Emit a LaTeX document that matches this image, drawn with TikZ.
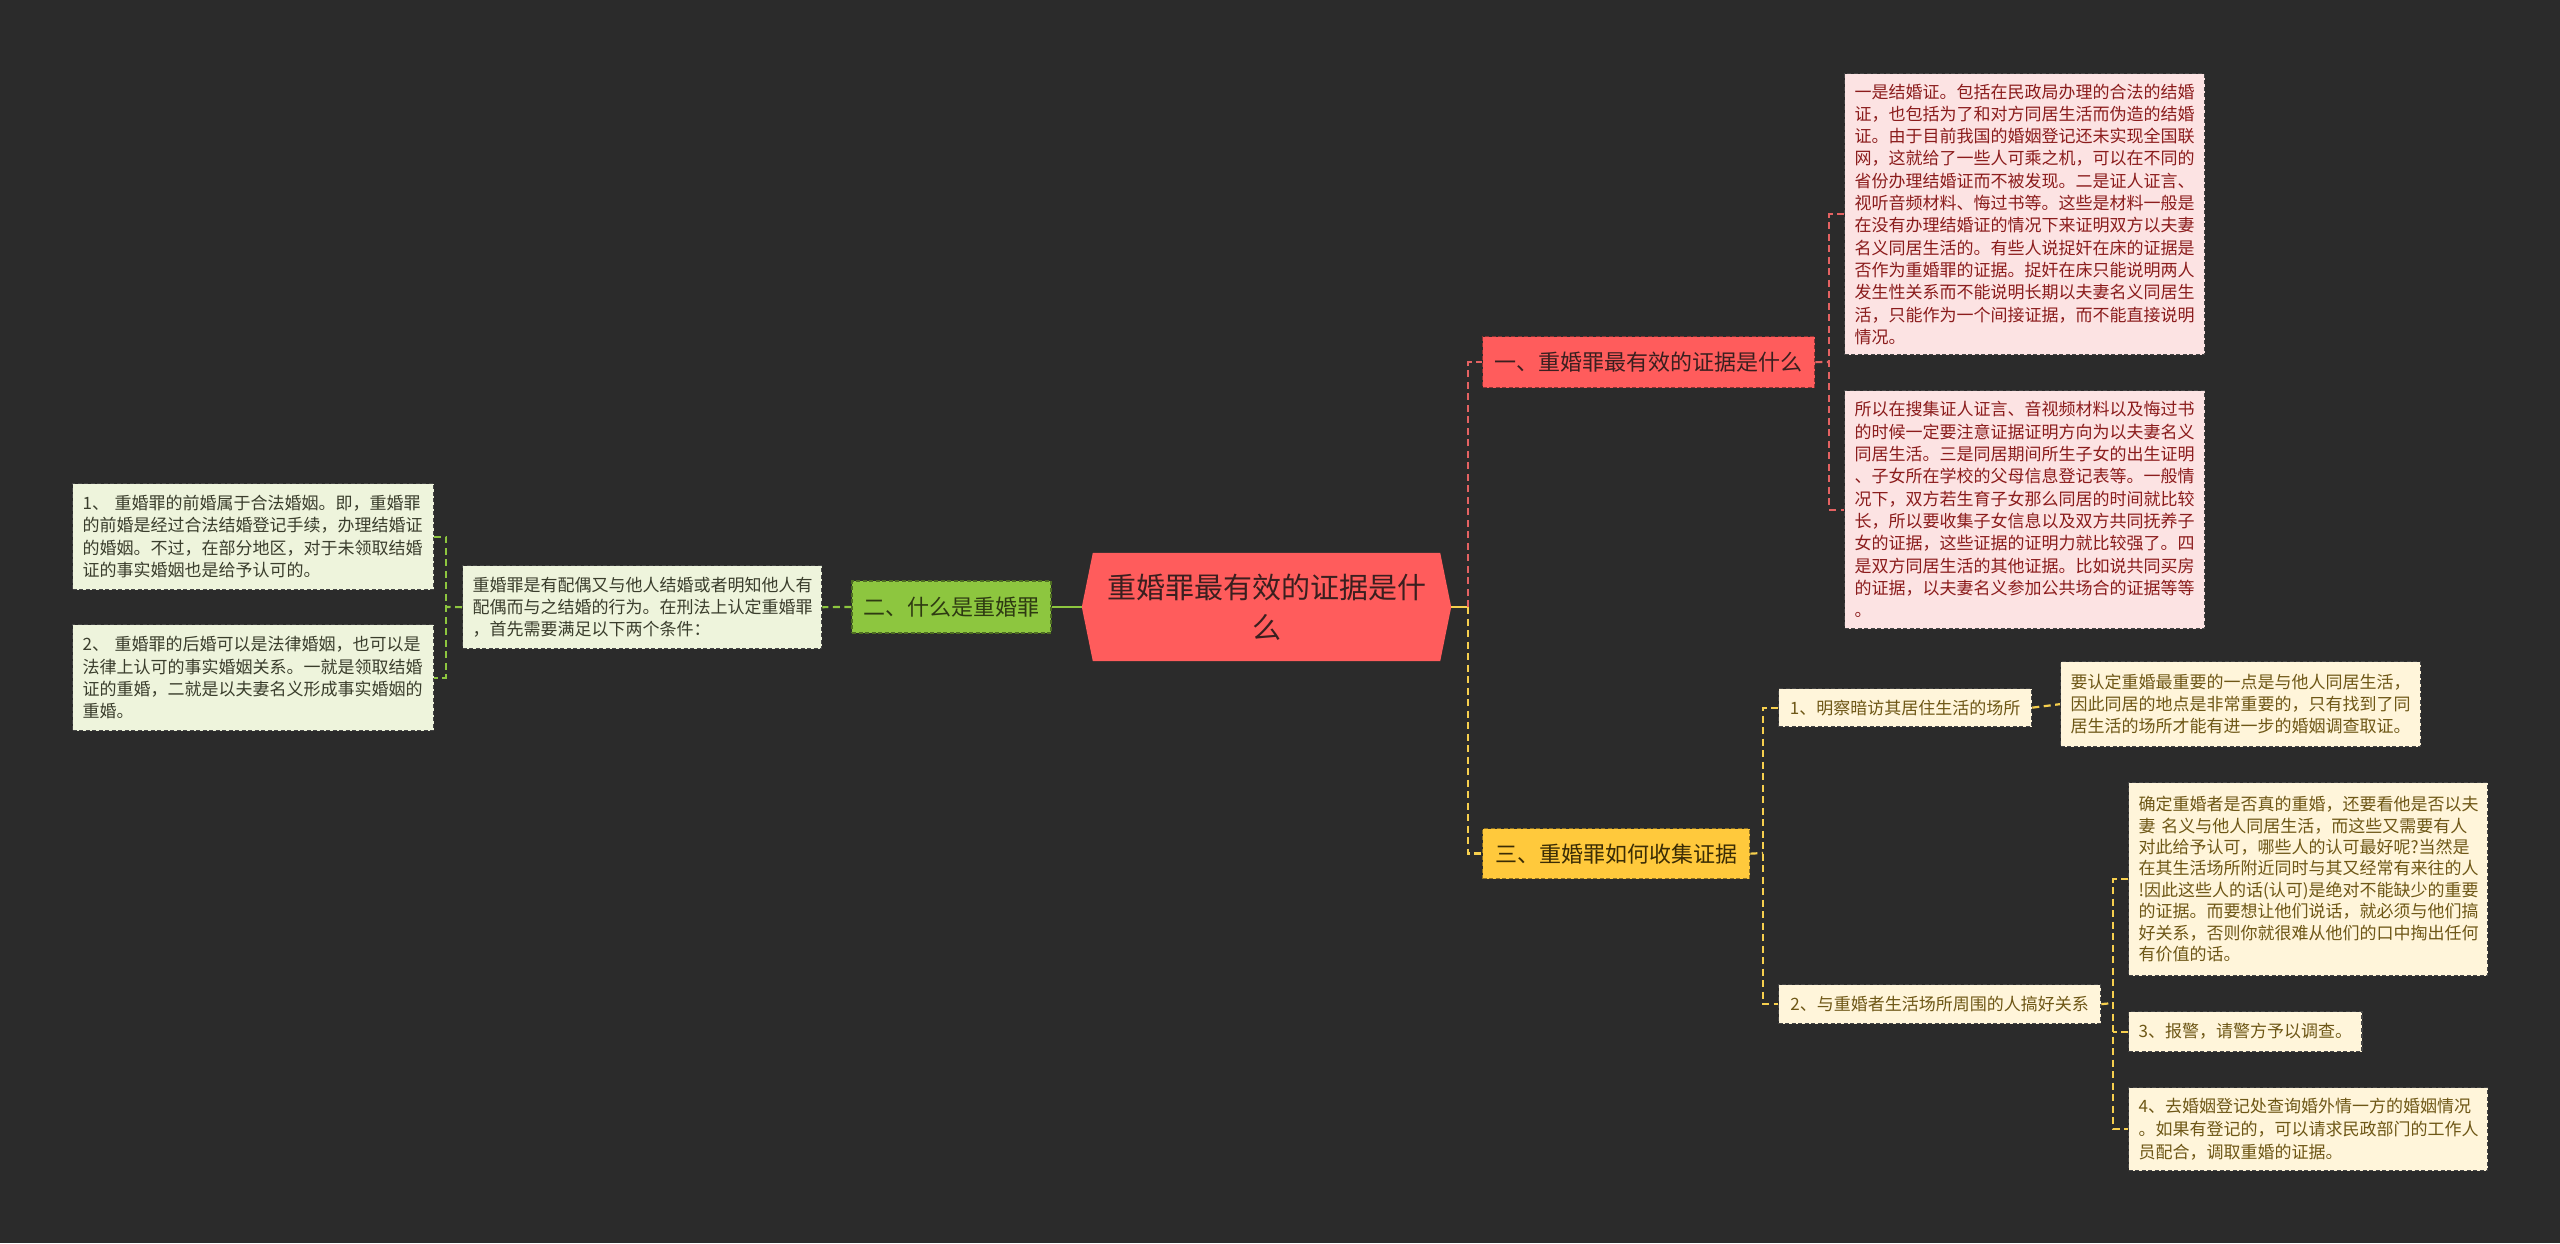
\documentclass[tikz,border=0pt]{standalone}
\usepackage{fontspec}
\setmainfont{Noto Sans CJK SC}
\usetikzlibrary{backgrounds,calc}
\definecolor{bgc}{HTML}{2B2B2B}
\definecolor{cred}{HTML}{FF5C5C}
\definecolor{ctext}{HTML}{3A1F1F}
\definecolor{pinkfill}{HTML}{FCE3E3}
\definecolor{pinktext}{HTML}{8B1C1C}
\definecolor{cgreen}{HTML}{8DC63F}
\definecolor{gtext}{HTML}{2E3A12}
\definecolor{greenfill}{HTML}{EEF4DC}
\definecolor{greentext}{HTML}{3A3D2C}
\definecolor{cyellow}{HTML}{FFC93C}
\definecolor{ytext}{HTML}{3A2C05}
\definecolor{yellowfill}{HTML}{FFF5DA}
\definecolor{yellowtext}{HTML}{6E5716}
\definecolor{lred}{HTML}{E46262}
\definecolor{lyellow}{HTML}{F6CF4E}
\definecolor{boxedge}{HTML}{454545}
\tikzset{
  boxdash/.style={dash pattern=on 4pt off 2.5pt, line width=1.3pt},
  branchbox/.style={boxdash, draw=#1!55!black, fill=#1, inner xsep=10pt, inner ysep=0pt,
    font=\fontsize{22}{28}\selectfont, align=center},
  leafbox/.style={boxdash, draw=boxedge, inner xsep=10pt, inner ysep=0pt,
    anchor=north west, align=left, font=\fontsize{17}{22.3}\selectfont},
  pinkleaf/.style={leafbox, fill=pinkfill, text=pinktext},
  greenleaf/.style={leafbox, fill=greenfill, text=greentext},
  yellowleaf/.style={leafbox, fill=yellowfill, text=yellowtext},
  conn/.style={line width=2.2pt, dash pattern=on 7pt off 4.5pt},
  rconn/.style={conn, draw=lred},
  gconn/.style={conn, draw=cgreen},
  yconn/.style={conn, draw=lyellow},
}
\begin{document}
\begin{tikzpicture}[x=1pt,y=-1pt]
\useasboundingbox (0,0) rectangle (2560,1243);

% central topic
\node[minimum width=369pt, minimum height=108pt, inner sep=0pt, text width=345pt, align=center,
      text=ctext, font=\fontsize{29}{40}\selectfont] (c) at (1266.5,607) {重婚罪最有效的证据是什\\么};

% main branches
\node[branchbox=cred, text=ctext, anchor=north west, minimum width=332pt, minimum height=51pt] (b1) at (1482,336) {一、重婚罪最有效的证据是什么};
\node[branchbox=cgreen, text=gtext, minimum width=199pt, minimum height=52pt] (b2) at (951.5,607) {二、什么是重婚罪};
\node[branchbox=cyellow, text=ytext, anchor=north west, minimum width=267pt, minimum height=50pt] (b3) at (1482,828) {三、重婚罪如何收集证据};

% red leaves
\node[pinkleaf, text width=340pt, minimum height=281pt] (r1) at (1844,73) {一是结婚证。包括在民政局办理的合法的结婚\\证，也包括为了和对方同居生活而伪造的结婚\\证。由于目前我国的婚姻登记还未实现全国联\\网，这就给了一些人可乘之机，可以在不同的\\省份办理结婚证而不被发现。二是证人证言、\\视听音频材料、悔过书等。这些是材料一般是\\在没有办理结婚证的情况下来证明双方以夫妻\\名义同居生活的。有些人说捉奸在床的证据是\\否作为重婚罪的证据。捉奸在床只能说明两人\\发生性关系而不能说明长期以夫妻名义同居生\\活，只能作为一个间接证据，而不能直接说明\\情况。};
\node[pinkleaf, text width=340pt, minimum height=238pt] (r2) at (1844,390) {所以在搜集证人证言、音视频材料以及悔过书\\的时候一定要注意证据证明方向为以夫妻名义\\同居生活。三是同居期间所生子女的出生证明\\、子女所在学校的父母信息登记表等。一般情\\况下，双方若生育子女那么同居的时间就比较\\长，所以要收集子女信息以及双方共同抚养子\\女的证据，这些证据的证明力就比较强了。四\\是双方同居生活的其他证据。比如说共同买房\\的证据，以夫妻名义参加公共场合的证据等等\\。};

% green leaves
\node[greenleaf, text width=339pt, minimum height=83pt] (gt) at (462,565) {重婚罪是有配偶又与他人结婚或者明知他人有\\配偶而与之结婚的行为。在刑法上认定重婚罪\\，首先需要满足以下两个条件：};
\node[greenleaf, text width=341pt, minimum height=106pt] (la) at (72,483) {1、 重婚罪的前婚属于合法婚姻。即，重婚罪\\的前婚是经过合法结婚登记手续，办理结婚证\\的婚姻。不过，在部分地区，对于未领取结婚\\证的事实婚姻也是给予认可的。};
\node[greenleaf, text width=341pt, minimum height=106pt] (lb) at (72,624) {2、 重婚罪的后婚可以是法律婚姻，也可以是\\法律上认可的事实婚姻关系。一就是领取结婚\\证的重婚，二就是以夫妻名义形成事实婚姻的\\重婚。};

% yellow leaves
\node[yellowleaf, align=center, minimum width=253pt, minimum height=38pt] (y1) at (1778,688) {1、明察暗访其居住生活的场所};
\node[yellowleaf, text width=340pt, minimum height=85pt] (y1l) at (2060,661) {要认定重婚最重要的一点是与他人同居生活，\\因此同居的地点是非常重要的，只有找到了同\\居生活的场所才能有进一步的婚姻调查取证。};
\node[yellowleaf, align=center, minimum width=322pt, minimum height=39pt] (y2) at (1778,984) {2、与重婚者生活场所周围的人搞好关系};
\node[yellowleaf, text width=339pt, minimum height=193pt, font=\fontsize{17}{21.4}\selectfont] (y2a) at (2128,782) {确定重婚者是否真的重婚，还要看他是否以夫\\妻 名义与他人同居生活，而这些又需要有人\\对此给予认可，哪些人的认可最好呢?当然是\\在其生活场所附近同时与其又经常有来往的人\\!因此这些人的话(认可)是绝对不能缺少的重要\\的证据。而要想让他们说话，就必须与他们搞\\好关系，否则你就很难从他们的口中掏出任何\\有价值的话。};
\node[yellowleaf, align=center, minimum width=233pt, minimum height=40pt] (y2b) at (2128,1011) {3、报警，请警方予以调查。};
\node[yellowleaf, text width=339pt, minimum height=83pt, font=\fontsize{17}{23}\selectfont] (y2c) at (2128,1087) {4、去婚姻登记处查询婚外情一方的婚姻情况\\。如果有登记的，可以请求民政部门的工作人\\员配合，调取重婚的证据。};

% junction points
\coordinate (trunk) at (1468,607);
\coordinate (gk) at (446,607);
\coordinate (rk) at (1829,362);
\coordinate (yk) at (1763,853);
\coordinate (yk2) at (2113,1003);

\begin{scope}[on background layer]
\fill[bgc] (0,0) rectangle (2560,1243);
\fill[cred] (c.west) -- ($(c.north west)+(11,0)$) -- ($(c.north east)+(-11,0)$) -- (c.east)
  -- ($(c.south east)+(-11,0)$) -- ($(c.south west)+(11,0)$) -- cycle;
% connectors
\draw[line width=2.5pt, draw=lyellow] (c.east) -- (trunk);
\draw[rconn, line width=2.5pt] (trunk) |- (b1.west);
\draw[yconn, line width=2.5pt] (trunk) |- (b3.west);
\draw[line width=2.5pt, draw=cgreen] (c.west) -- (b2.east);
\draw[gconn] (b2.west) -- (gt.east);
\draw[gconn] (gt.west) -- (gk);
\draw[gconn] (la.east) -- (la.east -| gk) -- (lb.east -| gk) -- (lb.east);
\draw[rconn] (b1.east) -- (rk);
\draw[rconn] (r1.west) -- (r1.west -| rk) -- (r2.west -| rk) -- (r2.west);
\draw[yconn] (b3.east) -- (yk);
\draw[yconn] (y1.west) -- (y1.west -| yk) -- (y2.west -| yk) -- (y2.west);
\draw[yconn] (y1.east) -- (y1l.west);
\draw[yconn] (y2.east) -- (yk2);
\draw[yconn] (y2a.west) -- (y2a.west -| yk2) -- (y2c.west -| yk2) -- (y2c.west);
\draw[yconn] (y2b.west) -- (y2b.west -| yk2);
\end{scope}
\end{tikzpicture}
\end{document}
